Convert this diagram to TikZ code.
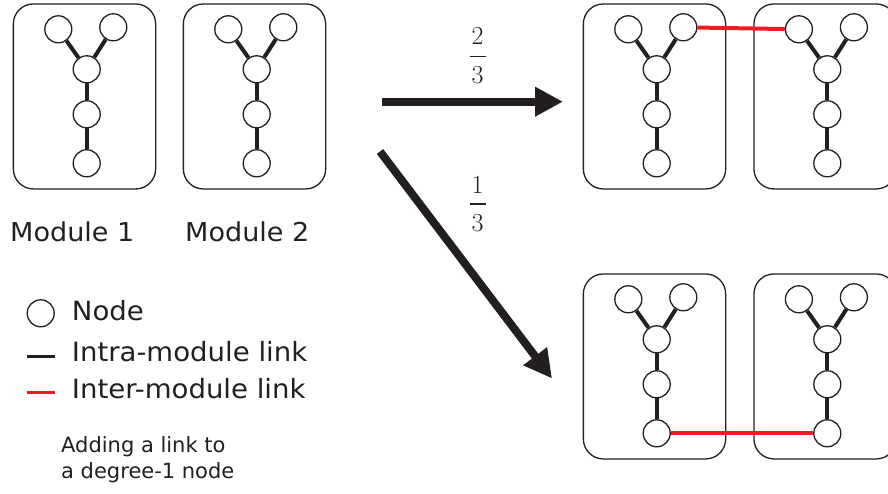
\documentclass[tikz,border=0pt]{standalone}
\usepackage{fontspec}
\setmainfont{DejaVu Sans}
\newfontfamily\widefont{DejaVu Sans}[FakeStretch=1.04]
\newfontfamily\fracfont{Latin Modern Roman}
\usetikzlibrary{arrows.meta}
\definecolor{linkred}{RGB}{237,28,36}
\definecolor{ink}{RGB}{35,31,32}
\tikzset{
  vtx/.style={circle, draw=ink, line width=1.3pt, minimum size=27pt, inner sep=0pt, fill=white},
  modbox/.style={draw=ink, line width=1.3pt, rounded corners=20pt, minimum width=142.3pt, minimum height=185pt, anchor=north west, inner sep=0pt},
  intra/.style={line width=4pt, draw=ink},
  inter/.style={line width=4pt, draw=linkred},
  bigarrow/.style={line width=8pt, draw=ink, -{Triangle[length=28pt,width=28pt]}},
  lbl/.style={font=\widefont\fontsize{26}{30}\selectfont, text=ink, inner sep=0pt, anchor=base west},
  leg/.style={font=\widefont\fontsize{26.5}{30}\selectfont, text=ink, inner sep=0pt, anchor=base west},
  note/.style={font=\fontsize{21}{25.6}\selectfont, text=ink, inner sep=0pt, anchor=base west},
  digit/.style={font=\fracfont\fontsize{26}{30}\selectfont, text=ink, inner sep=0pt, anchor=base},
  fracbar/.style={line width=1.5pt, draw=ink},
}
\newcommand\drawmod[3]{%
  \begin{scope}[shift={(#2,#3)}]
    \node[modbox] (#1box) at (0,0) {};
    \node[vtx] (#1a) at (45.6,26) {};
    \node[vtx] (#1b) at (100.6,24) {};
    \node[vtx] (#1c) at (74,66) {};
    \node[vtx] (#1d) at (74,111) {};
    \node[vtx] (#1e) at (74,160) {};
    \draw[intra] (#1a) -- (#1c);
    \draw[intra] (#1b) -- (#1c);
    \draw[intra] (#1c) -- (#1d);
    \draw[intra] (#1d) -- (#1e);
  \end{scope}}
\begin{document}
\begin{tikzpicture}[x=1pt,y=-1pt]
  \useasboundingbox (0,0) rectangle (888,494);
  \clip (0,0) rectangle (888,494);
  % left modules
  \drawmod{p}{12.7}{3.3}
  \drawmod{q}{182.7}{3.3}
  \node[lbl] (m1) at (10,241.7) {Module 1};
  \node[lbl] (m2) at (185,241.7) {Module 2};
  % top-right pair
  \drawmod{r}{582.7}{3.3}
  \drawmod{s}{753.3}{3.3}
  \draw[inter] (rb) -- (sa);
  % bottom-right pair
  \drawmod{t}{582.7}{273.3}
  \drawmod{u}{753.3}{273.3}
  \draw[inter] (te) -- (ue);
  % arrows
  \coordinate (a1s) at (381.7,101.7);
  \coordinate (a1e) at (563,101.7);
  \draw[bigarrow] (a1s) -- (a1e);
  \coordinate (a2s) at (380,151.5);
  \coordinate (a2e) at (552,378.5);
  \draw[bigarrow] (a2s) -- (a2e);
  % fractions
  \node[digit] (f1n) at (477.5,45) {2};
  \coordinate (f1l) at (469.5,56.7);
  \coordinate (f1r) at (485.5,56.7);
  \draw[fracbar] (f1l) -- (f1r);
  \node[digit] (f1d) at (477.5,83.3) {3};
  \node[digit] (f2n) at (477.5,193.3) {1};
  \coordinate (f2l) at (469.5,204);
  \coordinate (f2r) at (485.5,204);
  \draw[fracbar] (f2l) -- (f2r);
  \node[digit] (f2d) at (477.5,231.7) {3};
  % legend
  \node[vtx] (lnode) at (40.7,313.3) {};
  \node[leg] (tnode) at (71.7,320) {Node};
  \coordinate (li1) at (26.7,356);
  \coordinate (li2) at (55,356);
  \draw[line width=3pt, draw=ink] (li1) -- (li2);
  \node[leg] (tintra) at (71.7,361.7) {Intra-module link};
  \coordinate (le1) at (26.7,392.7);
  \coordinate (le2) at (55,392.7);
  \draw[line width=3pt, draw=linkred] (le1) -- (le2);
  \node[leg] (tinter) at (71.7,398.3) {Inter-module link};
  \node[note] (n1) at (61,452.7) {Adding a link to};
  \node[note] (n2) at (61,478.3) {a degree-1 node};
\end{tikzpicture}
\end{document}
